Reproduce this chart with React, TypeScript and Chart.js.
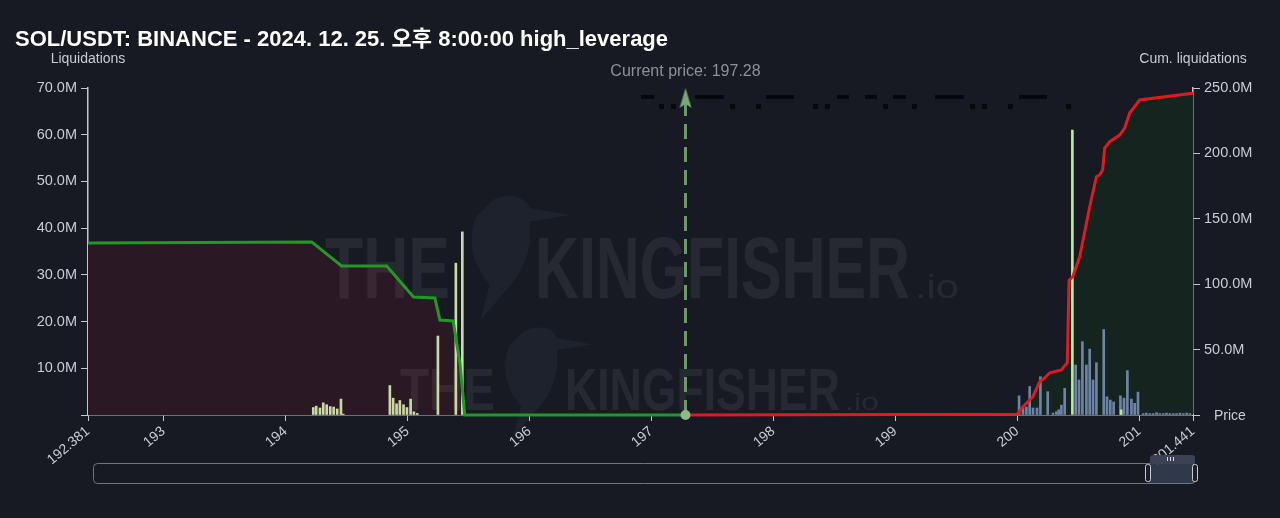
import React, { useEffect, useRef } from 'react';
import { Chart, registerables } from 'chart.js';

Chart.register(...registerables);

const TITLE = 'SOL/USDT: BINANCE - 2024. 12. 25. 오후 8:00:00 high_leverage';
const LEFT_TITLE = 'Liquidations';
const RIGHT_TITLE = 'Cum. liquidations';
const X_TITLE = 'Price';
const CURRENT_PRICE = 197.28;
const X_MIN = 192.381;
const X_MAX = 201.441;
const xTickValues = [192.381, 193, 194, 195, 196, 197, 198, 199, 200, 201, 201.441];
const LEFT_MAX = 70; // M
const RIGHT_MAX = 250; // M

// Liquidation bars (millions)
const longBarPrices = [
  194.228, 194.252, 194.283, 194.31, 194.338, 194.367, 194.395, 194.424, 194.455, 194.474,
  194.856, 194.883, 194.911, 194.938, 194.968, 194.996, 195.026, 195.053, 195.08,
  195.25, 195.397, 195.45,
];
const longBarValues = [
  1.6, 1.9, 1.5, 2.6, 2.2, 1.8, 1.7, 1.3, 3.4, 0.2,
  6.3, 3.6, 2.4, 3.1, 2.2, 1.6, 3.4, 0.7, 0.35,
  16.9, 32.5, 39.2,
];
const shortBarPrices = [
  200.015, 200.047, 200.075, 200.102, 200.129, 200.162, 200.19, 200.25, 200.293, 200.321,
  200.34, 200.362, 200.389, 200.479, 200.506, 200.534, 200.567, 200.594, 200.621, 200.649,
  200.709, 200.736, 200.763, 200.79, 200.846, 200.875, 200.903, 200.936, 200.963, 200.99,
  201.032, 201.059, 201.087, 201.114, 201.142, 201.169, 201.197, 201.224, 201.251, 201.279,
  201.306, 201.334, 201.361, 201.389, 201.416,
];
const shortBarValues = [
  4.1, 1.5, 1.7, 6.1, 1.5, 1.5, 8.2, 5.0, 0.4, 0.7,
  1.1, 2.1, 5.7, 10.7, 7.5, 15.7, 10.7, 14.1, 7.5, 11.2,
  18.3, 3.9, 3.2, 2.8, 4.1, 3.6, 9.5, 3.4, 2.5, 4.9,
  0.3, 0.4, 0.3, 0.3, 0.5, 0.3, 0.3, 0.4, 0.3, 0.3,
  0.3, 0.4, 0.3, 0.4, 0.3,
];
const peakBarPrices = [200.452, 200.852];
const peakBarValues = [61, 1.1];

// Cumulative liquidations (millions)
const cumLongPrices = [192.381, 194.215, 194.46, 194.83, 195.05, 195.225, 195.266, 195.375, 195.43, 195.47, 197.28];
const cumLongValues = [131.5, 132.3, 113.9, 113.9, 90.2, 89.4, 72.6, 71.9, 39.8, 0, 0];
const cumShortPrices = [
  197.28, 200.0, 200.045, 200.127, 200.184, 200.225, 200.266, 200.362, 200.41, 200.425,
  200.455, 200.512, 200.594, 200.649, 200.676, 200.7, 200.717, 200.758, 200.84, 200.881,
  200.922, 201.004, 201.39, 201.441,
];
const cumShortValues = [
  0, 0.5, 6.1, 13.8, 25.5, 28.3, 32.3, 34.4, 40, 103,
  105.7, 121, 159.2, 182.2, 183.5, 187.3, 204.1, 209, 214, 219.4,
  230.9, 240.8, 245.4, 246,
];
const priceLineValues = [0, 242.4];

const BG = '#171923';
const AXIS = '#c3c7cf';
const TEXT = '#c9ccd3';
const FONT = "'Liberation Sans', 'Noto Sans CJK KR', Arial, sans-serif";

const toPts = (xs: number[], ys: number[]) => xs.map((x, i) => ({ x, y: ys[i] * 1e6 }));

function makeArrow() {
  const c = document.createElement('canvas');
  c.width = 14;
  c.height = 20;
  const a = c.getContext('2d')!;
  a.fillStyle = '#79a874';
  a.beginPath();
  a.moveTo(7, 0);
  a.lineTo(13, 20);
  a.lineTo(7, 16);
  a.lineTo(1, 20);
  a.closePath();
  a.fill();
  return c;
}

function drawWord(ctx: CanvasRenderingContext2D, text: string, x: number, baseline: number, size: number, targetW: number, weight = 'bold') {
  ctx.save();
  ctx.font = `${weight} ${size}px ${FONT}`;
  const w = ctx.measureText(text).width;
  ctx.translate(x, baseline);
  ctx.scale(targetW / w, 1);
  ctx.textBaseline = 'alphabetic';
  ctx.textAlign = 'left';
  ctx.fillText(text, 0, 0);
  ctx.restore();
}

function drawBird(ctx: CanvasRenderingContext2D, cx: number, cy: number, s: number) {
  ctx.save();
  ctx.translate(cx, cy);
  ctx.scale(s, s);
  ctx.fillStyle = 'rgba(70, 100, 115, 0.13)';
  ctx.beginPath();
  ctx.moveTo(-10, -60);
  ctx.quadraticCurveTo(20, -70, 30, -50);
  ctx.lineTo(75, -42);
  ctx.lineTo(30, -35);
  ctx.quadraticCurveTo(35, 10, 0, 45);
  ctx.lineTo(-25, 75);
  ctx.lineTo(-15, 35);
  ctx.quadraticCurveTo(-45, 0, -30, -40);
  ctx.closePath();
  ctx.fill();
  ctx.restore();
}

const decorPlugin = {
  id: 'decor',
  beforeDraw(chart: any) {
    const { ctx, width, height } = chart;
    ctx.save();
    ctx.fillStyle = BG;
    ctx.fillRect(0, 0, width, height);
    ctx.restore();
  },
  beforeDatasetsDraw(chart: any) {
    const { ctx, chartArea: ca } = chart;
    ctx.save();
    // watermarks
    drawBird(ctx, ca.left + 415, ca.top + 165, 0.9);
    drawBird(ctx, ca.left + 445, ca.top + 290, 0.8);
    ctx.fillStyle = 'rgba(255,255,255,0.07)';
    drawWord(ctx, 'THE', ca.left + 237, ca.top + 210, 88, 125);
    drawWord(ctx, 'KINGFISHER', ca.left + 447, ca.top + 210, 88, 375);
    drawWord(ctx, '.io', ca.left + 827, ca.top + 210, 34, 44, 'normal');
    drawWord(ctx, 'THE', ca.left + 312, ca.top + 322, 60, 95);
    drawWord(ctx, 'KINGFISHER', ca.left + 477, ca.top + 322, 60, 275);
    drawWord(ctx, '.io', ca.left + 757, ca.top + 322, 24, 34, 'normal');
    // dark legend-like marks near the top
    ctx.fillStyle = '#07080b';
    const row1 = [[641, 654], [695, 724], [766, 794], [837, 849], [865, 877], [893, 906], [935, 964], [1019, 1047]];
    row1.forEach(([a, b]) => ctx.fillRect(a, 95, b - a, 4));
    const row2 = [661, 673, 732, 758, 815, 827, 885, 914, 972, 984, 1010, 1068];
    row2.forEach((a) => ctx.fillRect(a - 2, 104, 5, 5));
    ctx.restore();
  },
  afterDraw(chart: any) {
    const { ctx, chartArea: ca, scales } = chart;
    ctx.save();
    // title
    ctx.fillStyle = '#ffffff';
    ctx.font = `bold 22px ${FONT}`;
    ctx.textBaseline = 'middle';
    ctx.textAlign = 'left';
    ctx.fillText(TITLE, 15, 40);
    // axis titles
    ctx.fillStyle = TEXT;
    ctx.font = `14px ${FONT}`;
    ctx.textAlign = 'center';
    ctx.fillText(LEFT_TITLE, ca.left, 59);
    ctx.fillText(RIGHT_TITLE, ca.right, 59);
    ctx.textAlign = 'left';
    ctx.fillText(X_TITLE, ca.right + 21, ca.bottom + 1);
    // current price label
    const px = scales.x.getPixelForValue(CURRENT_PRICE);
    ctx.fillStyle = '#8c919b';
    ctx.font = `16px ${FONT}`;
    ctx.textAlign = 'center';
    ctx.fillText(`Current price: ${CURRENT_PRICE}`, px, 72);
    // slider (data zoom)
    const sx0 = ca.left + 5, sx1 = ca.right + 2, sy0 = 463, sy1 = 483;
    ctx.strokeStyle = '#70747f';
    ctx.lineWidth = 1;
    ctx.beginPath();
    ctx.roundRect(sx0 + 0.5, sy0 + 0.5, sx1 - sx0, sy1 - sy0, 4);
    ctx.stroke();
    const hx0 = ca.right - 45;
    ctx.fillStyle = 'rgba(80, 95, 125, 0.45)';
    ctx.fillRect(hx0, sy0 + 1, sx1 - hx0, sy1 - sy0 - 1);
    ctx.fillStyle = '#3a4254';
    ctx.beginPath();
    ctx.roundRect(hx0 + 2, 455, sx1 - hx0 - 2, 9, [3, 3, 0, 0]);
    ctx.fill();
    ctx.fillStyle = '#d8dbe2';
    [-3, 0, 3].forEach((d) => ctx.fillRect(hx0 + 22 + d, 457, 1, 4));
    [hx0, sx1].forEach((hx) => {
      ctx.fillStyle = '#1c1f2b';
      ctx.strokeStyle = '#c9ccd3';
      ctx.beginPath();
      ctx.roundRect(hx - 2.5, sy0 + 1.5, 5, 17, 2);
      ctx.fill();
      ctx.stroke();
    });
    ctx.restore();
  },
};

export default function App() {
  const ref = useRef<HTMLCanvasElement | null>(null);
  useEffect(() => {
    if (!ref.current) return;
    const fmtM = (v: number) => (v === 0 ? '' : (v / 1e6).toFixed(1) + 'M');
    const chart = new Chart(ref.current, {
      type: 'bar',
      data: {
        datasets: [
          {
            type: 'line',
            label: 'Current price',
            data: [
              { x: CURRENT_PRICE, y: priceLineValues[0] * 1e6 },
              { x: CURRENT_PRICE, y: priceLineValues[1] * 1e6 },
            ],
            yAxisID: 'yR',
            borderColor: 'rgba(112, 160, 108, 0.95)',
            borderWidth: 3,
            borderDash: [15, 8],
            pointStyle: ['circle', makeArrow()] as any,
            pointRadius: [5, 10],
            pointBackgroundColor: '#8db88a',
            pointBorderWidth: 0,
            fill: false,
            clip: false as any,
            order: -1,
          } as any,
          {
            type: 'line',
            label: 'Cum long',
            data: toPts(cumLongPrices, cumLongValues),
            yAxisID: 'yR',
            borderColor: '#1f9a22',
            borderWidth: 3,
            pointRadius: 0,
            fill: 'origin',
            backgroundColor: '#2a1824',
            tension: 0,
            clip: 4 as any,
            order: 0,
          } as any,
          {
            type: 'line',
            label: 'Cum short',
            data: toPts(cumShortPrices, cumShortValues),
            yAxisID: 'yR',
            borderColor: '#e01a1f',
            borderWidth: 3,
            pointRadius: 0,
            fill: 'origin',
            backgroundColor: '#16241f',
            tension: 0,
            clip: 4 as any,
            order: 0,
          } as any,
          {
            type: 'bar',
            label: 'Long liq',
            data: toPts(longBarPrices, longBarValues),
            yAxisID: 'yL',
            backgroundColor: '#ccd9a4',
            barThickness: 2,
            grouped: false,
            order: 2,
          } as any,
          {
            type: 'bar',
            label: 'Short liq',
            data: toPts(shortBarPrices, shortBarValues),
            yAxisID: 'yL',
            backgroundColor: '#6d84a8',
            barThickness: 2,
            grouped: false,
            order: 2,
          } as any,
          {
            type: 'bar',
            label: 'Peak liq',
            data: toPts(peakBarPrices, peakBarValues),
            yAxisID: 'yL',
            backgroundColor: '#b8eaa6',
            barThickness: 2,
            grouped: false,
            order: 1,
          } as any,
        ],
      },
      options: {
        responsive: false,
        animation: false,
        events: [],
        layout: { padding: { top: 88, left: 0, right: 0, bottom: 0 } },
        plugins: {
          legend: { display: false },
          tooltip: { enabled: false },
          title: { display: false },
          filler: { drawTime: 'beforeDatasetsDraw', propagate: false },
        } as any,
        scales: {
          x: {
            type: 'linear',
            min: X_MIN,
            max: X_MAX,
            offset: false,
            position: 'bottom',
            afterFit: (s: any) => { s.height = 103; },
            afterBuildTicks: (s: any) => { s.ticks = xTickValues.map((v) => ({ value: v })); },
            grid: { drawOnChartArea: false, color: AXIS, tickLength: 6, offset: false },
            border: { color: AXIS, width: 1.5 },
            ticks: {
              color: TEXT,
              font: { size: 14, family: FONT },
              minRotation: 40,
              maxRotation: 40,
              autoSkip: false,
              padding: 2,
              callback: (v: any) => String(v),
            },
          },
          yL: {
            type: 'linear',
            position: 'left',
            min: 0,
            max: LEFT_MAX * 1e6,
            afterFit: (s: any) => { s.width = 88; },
            grid: { drawOnChartArea: false, color: AXIS, tickLength: 7 },
            border: { color: AXIS, width: 1.5 },
            ticks: {
              stepSize: 10e6,
              color: TEXT,
              font: { size: 14.5, family: FONT },
              padding: 4,
              callback: (v: any) => fmtM(Number(v)),
            },
          },
          yR: {
            type: 'linear',
            position: 'right',
            min: 0,
            max: RIGHT_MAX * 1e6,
            afterFit: (s: any) => { s.width = 87; },
            grid: { drawOnChartArea: false, color: AXIS, tickLength: 7 },
            border: { color: AXIS, width: 1.5 },
            ticks: {
              stepSize: 50e6,
              color: TEXT,
              font: { size: 14.5, family: FONT },
              padding: 4,
              callback: (v: any) => fmtM(Number(v)),
            },
          },
        },
      } as any,
      plugins: [decorPlugin],
    });
    return () => chart.destroy();
  }, []);
  return (
    <div style={{ position: 'fixed', left: 0, top: 0, width: 1280, height: 518, background: BG }}>
      <canvas ref={ref} width={1280} height={518} style={{ display: 'block' }} />
    </div>
  );
}
